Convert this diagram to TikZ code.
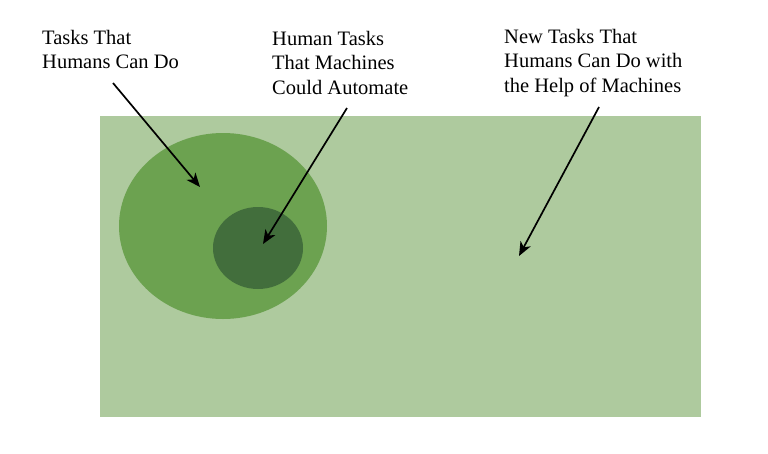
\documentclass[tikz,border=0pt]{standalone}
\usepackage{fontspec}
\setmainfont{Liberation Serif}
\usetikzlibrary{arrows.meta}
\definecolor{lightg}{RGB}{174,202,158}
\definecolor{midg}{RGB}{108,162,80}
\definecolor{darkg}{RGB}{66,110,60}
\tikzset{
  lbl/.style={anchor=north west, inner sep=0pt, align=left, font=\fontsize{20.5}{24.5}\selectfont},
  pointer/.style={draw=black, line width=1.7pt, -{Stealth[length=14pt,width=11.5pt,inset=4pt]}}
}
\begin{document}
\begin{tikzpicture}[x=1pt,y=-1pt]
\useasboundingbox (0,0) rectangle (768,453);
\fill[lightg] (100,116) rectangle (701,417);
\fill[midg] (223,226) ellipse [x radius=104, y radius=93];
\fill[darkg] (258,248) ellipse [x radius=45, y radius=41];
\node[lbl] (l1) at (42,30) {Tasks That\\Humans Can Do};
\node[lbl] (l2) at (272,31) {Human Tasks\\That Machines\\Could Automate};
\node[lbl] (l3) at (504,29) {New Tasks That\\Humans Can Do with\\the Help of Machines};
\coordinate (s1) at (113,83);
\coordinate (e1) at (200,187);
\coordinate (s2) at (347,108);
\coordinate (e2) at (263,244);
\coordinate (s3) at (599,107);
\coordinate (e3) at (519,256);
\draw[pointer] (s1) -- (e1);
\draw[pointer] (s2) -- (e2);
\draw[pointer] (s3) -- (e3);
\end{tikzpicture}
\end{document}
